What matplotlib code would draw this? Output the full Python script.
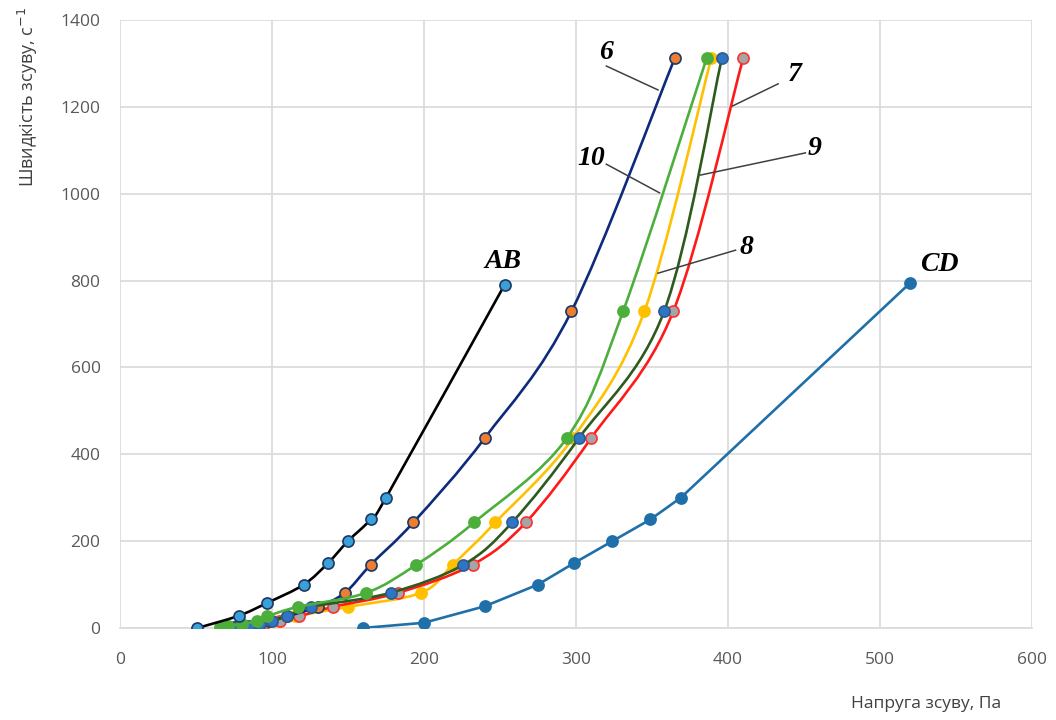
import matplotlib
matplotlib.use("Agg")
import matplotlib.pyplot as plt
from matplotlib.path import Path
from matplotlib.patches import PathPatch

# shear stress (Pa) and shear rate (1/s)
ab_x = [51, 78, 97, 121, 137, 150, 165, 175, 253]
ab_y = [0, 28, 58, 100, 150, 200, 250, 300, 790]

cd_x = [160, 200, 240, 275, 299, 324, 349, 369, 520]
cd_y = [0, 12, 50, 100, 150, 200, 250, 300, 795]

rates = [3, 5.4, 9, 16.2, 27, 48.6, 81, 145.8, 243, 437.4, 729, 1312]
x_6 = [75, 82, 90, 98, 110, 130, 148, 165, 193, 240, 297, 365]
x_7 = [80, 88, 95, 105, 118, 140, 183, 232, 267, 310, 364, 410]
x_8 = [78, 85, 95, 104, 115, 150, 198, 219, 247, 298, 345, 389]
x_9 = [78, 85, 92, 100, 110, 126, 178, 226, 258, 302, 358, 396]
x_10 = [66, 71, 80, 90, 97, 117, 162, 195, 233, 294, 331, 386]

x_ticks = [0, 100, 200, 300, 400, 500, 600]
y_ticks = [0, 200, 400, 600, 800, 1000, 1200, 1400]


def smooth_path(xs, ys):
    # excel-like smoothed line: cubic bezier through every point
    pts = list(zip(xs, ys))
    n = len(pts)
    verts = [pts[0]]
    codes = [Path.MOVETO]
    for i in range(n - 1):
        p0 = pts[i - 1] if i > 0 else pts[i]
        p1 = pts[i]
        p2 = pts[i + 1]
        p3 = pts[i + 2] if i + 2 < n else pts[i + 1]
        c1 = (p1[0] + (p2[0] - p0[0]) / 6, p1[1] + (p2[1] - p0[1]) / 6)
        c2 = (p2[0] - (p3[0] - p1[0]) / 6, p2[1] - (p3[1] - p1[1]) / 6)
        verts += [c1, c2, p2]
        codes += [Path.CURVE4] * 3
    return Path(verts, codes)


def draw_series(ax, xs, ys, line_col, face, edge, smooth=True, z=3):
    if smooth:
        ax.add_patch(PathPatch(smooth_path(xs, ys), fill=False,
                               edgecolor=line_col, lw=1.9, zorder=z))
    else:
        ax.plot(xs, ys, color=line_col, lw=1.9, zorder=z)
    ax.plot(xs, ys, ls="none", marker="o", ms=8, mfc=face, mec=edge,
            mew=1.2, zorder=z + 0.05)


fig = plt.figure(figsize=(10.56, 7.2), dpi=100)
ax = fig.add_axes([0.1136, 0.1278, 0.8636, 0.8444])

draw_series(ax, cd_x, cd_y, "#1f6fa8", "#1f6fa8", "#1f6fa8", smooth=False)
draw_series(ax, x_8, rates, "#ffc000", "#ffc000", "#ffc000", z=3.0)
draw_series(ax, x_7, rates, "#ff1a1a", "#a5a5a5", "#ff3030", z=3.1)
draw_series(ax, x_6, rates, "#0d2b7a", "#ed7d31", "#1f3864", z=3.2)
draw_series(ax, x_9, rates, "#2e5a1c", "#2e75c6", "#2e5a8c", z=3.3)
draw_series(ax, x_10, rates, "#4caf3c", "#4caf3c", "#4caf3c", z=3.4)
draw_series(ax, ab_x, ab_y, "#000000", "#3aa0d8", "#1f3864", z=4)

ax.set_xlim(0, 600)
ax.set_ylim(0, 1400)
ax.set_xticks(x_ticks)
ax.set_yticks(y_ticks)
ax.grid(True, color="#d9d9d9", lw=1.2)
ax.set_axisbelow(True)
for side in ["top", "right", "left"]:
    ax.spines[side].set_visible(False)
ax.spines["bottom"].set_color("#d9d9d9")
ax.spines["bottom"].set_linewidth(1.2)
ax.tick_params(length=0, labelsize=12.5, colors="#595959")
ax.tick_params(axis="x", pad=17)
ax.tick_params(axis="y", pad=14)
for lab in ax.get_xticklabels() + ax.get_yticklabels():
    lab.set_family("Open Sans")

fig.text(0.026, 0.99, "Швидкість зсуву, с$^{-1}$", rotation=90, ha="center",
         va="top", fontsize=13, color="#404040", family="Open Sans")
fig.text(0.948, 0.022, "Напруга зсуву, Па", ha="right", va="center",
         fontsize=12.5, color="#404040", family="Open Sans")

# curve labels with leader lines
lab_font = dict(family="Liberation Serif", weight="bold", style="italic",
                fontsize=20, color="black", ha="center", va="center", zorder=6)
ax.text(252, 845, "AB", **lab_font)
ax.text(539, 838, "CD", **lab_font)
labels = [
    ("6", (320, 1326), (320, 1294), (354, 1239)),
    ("7", (444, 1275), (433, 1253), (403, 1202)),
    ("9", (457, 1103), (451, 1094), (382, 1043)),
    ("10", (310, 1082), (320, 1068), (355, 1002)),
    ("8", (412, 876), (405, 870), (354, 817)),
]
for txt, pos, a, b in labels:
    ax.text(pos[0], pos[1], txt, **lab_font)
    ax.plot([a[0], b[0]], [a[1], b[1]], color="#404040", lw=1.1, zorder=5)

fig.savefig("out.png", dpi=100)
